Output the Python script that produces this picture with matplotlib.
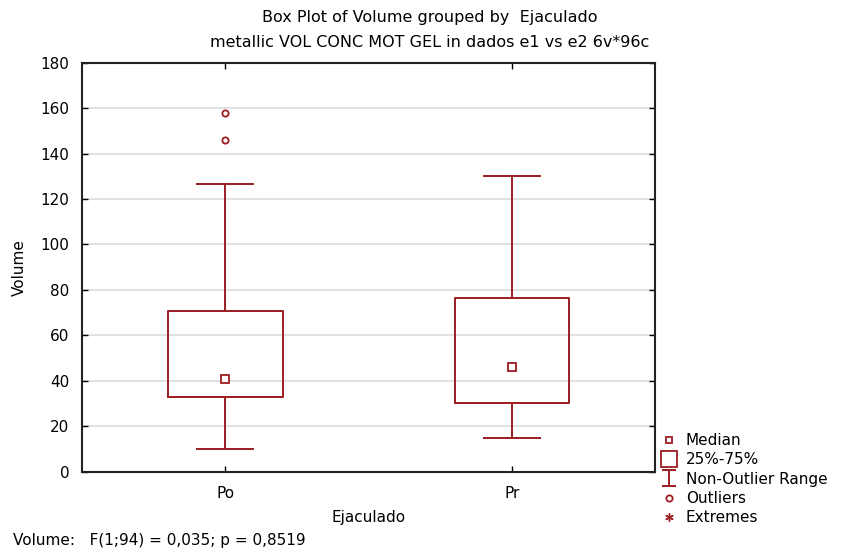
import numpy as np
import matplotlib.pyplot as plt
from matplotlib.lines import Line2D
from matplotlib.path import Path

plt.rcParams['font.family'] = ['DejaVu Sans']
plt.rcParams['font.size'] = 11

# values
groups = ['Po', 'Pr']
medians = [40.9, 46.1]
q1 = [33.0, 30.2]
q3 = [70.6, 76.5]
whis_lo = [10.0, 15.0]
whis_hi = [126.5, 130.1]
outliers = [[158.0, 146.0], []]
yticks = [0, 20, 40, 60, 80, 100, 120, 140, 160, 180]

red = '#9c1c22'

fig = plt.figure(figsize=(8.43, 5.53), dpi=100)
ax = fig.add_axes([0.0973, 0.147, 0.680, 0.7396])

stats = []
for i, g in enumerate(groups):
    stats.append(dict(label=g, med=medians[i], mean=medians[i], q1=q1[i], q3=q3[i],
                      whislo=whis_lo[i], whishi=whis_hi[i], fliers=outliers[i]))

ax.bxp(stats, positions=[1, 2], widths=0.4, showmeans=True, patch_artist=False,
       boxprops=dict(color=red, lw=1.4),
       whiskerprops=dict(color=red, lw=1.4),
       capprops=dict(color=red, lw=1.4),
       capwidths=0.195,
       medianprops=dict(visible=False),
       meanprops=dict(marker='s', markersize=5.5, markerfacecolor='white',
                      markeredgecolor=red, markeredgewidth=1.3),
       flierprops=dict(marker='o', markersize=4.5, markerfacecolor='white',
                       markeredgecolor=red, markeredgewidth=1.3))

ax.set_xlim(0.5, 2.5)
ax.set_ylim(0, 180)
ax.set_yticks(yticks)
ax.set_xticks([1, 2])
ax.set_xticklabels(groups)
ax.yaxis.grid(True, color='#dcdcdc', lw=1.2)
ax.set_axisbelow(True)
ax.tick_params(direction='in', length=4, width=1, top=True, right=True)
ax.tick_params(axis='y', pad=9)
ax.tick_params(axis='x', pad=10)
for s in ax.spines.values():
    s.set_linewidth(1.5)
    s.set_color('#222222')

ax.set_xlabel('Ejaculado', labelpad=7)
ax.set_ylabel('Volume', labelpad=10)
fig.text(0.51, 0.969, 'Box Plot of Volume grouped by  Ejaculado', ha='center', va='center',
         fontsize=11.5)
fig.text(0.51, 0.924, 'metallic VOL CONC MOT GEL in dados e1 vs e2 6v*96c', ha='center',
         va='center', fontsize=11.5)
fig.text(0.015, 0.022, 'Volume:   F(1;94) = 0,035; p = 0,8519', ha='left', va='center')

# legend
ibeam = Path([(-0.85, -1), (0.85, -1), (0, -1), (0, 1), (-0.85, 1), (0.85, 1)],
             [Path.MOVETO, Path.LINETO, Path.MOVETO, Path.LINETO, Path.MOVETO, Path.LINETO])
handles = [
    Line2D([], [], ls='none', marker='s', ms=5, mfc='white', mec=red, mew=1.3),
    Line2D([], [], ls='none', marker='s', ms=11, mfc='white', mec=red, mew=1.3),
    Line2D([], [], ls='none', marker=ibeam, ms=11.5, mec=red, mew=1.4),
    Line2D([], [], ls='none', marker='o', ms=4.5, mfc='white', mec=red, mew=1.3),
    Line2D([], [], ls='none', marker=(6, 2, 0), ms=6, mec=red, mew=1),
]
labels = ['Median', '25%-75%', 'Non-Outlier Range', 'Outliers', 'Extremes']
fig.legend(handles, labels, loc='upper left', bbox_to_anchor=(0.770, 0.236),
           frameon=False, handlelength=1.2, handletextpad=0.5, labelspacing=0.28,
           borderpad=0.2)

fig.savefig('out.png', dpi=100)
